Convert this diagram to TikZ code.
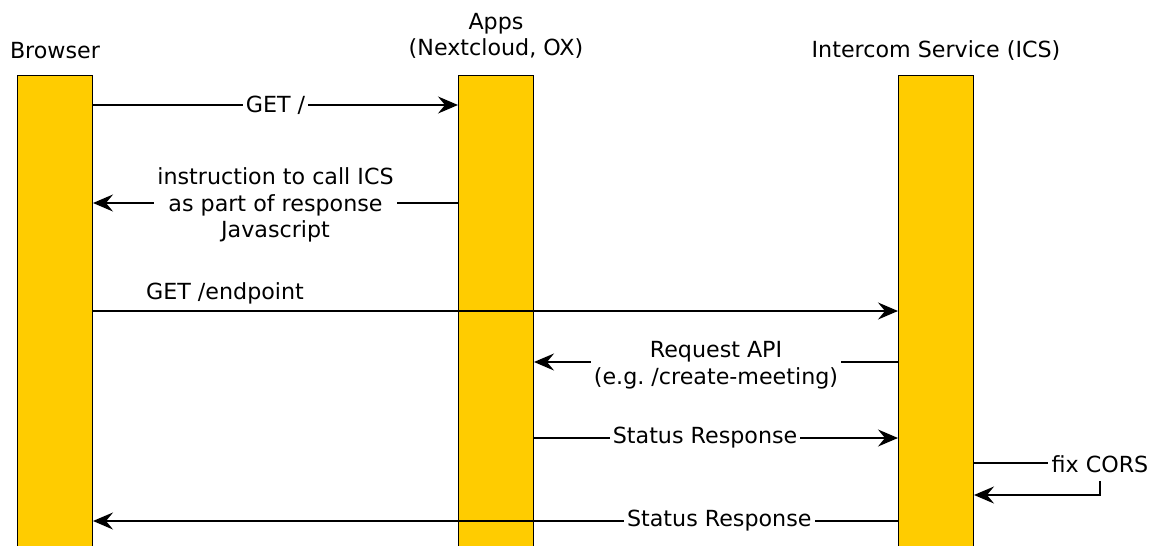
\documentclass[tikz,border=0pt]{standalone}
\usepackage{fontspec}
\setmainfont{DejaVu Sans}
\usetikzlibrary{arrows.meta,calc}
\definecolor{baryellow}{HTML}{FFCC00}
\tikzset{
  bar/.style={draw=black, line width=1pt, fill=baryellow, minimum width=75pt, minimum height=500pt, anchor=north, inner sep=0pt},
  hdr/.style={align=center, inner sep=0pt},
  lbl/.style={fill=white, align=center, inner sep=3pt},
  msg/.style={line width=1.4pt, -{Stealth[length=20pt,width=17pt,inset=7pt]}},
  plain/.style={line width=1.4pt},
}
\begin{document}
\frenchspacing
\begin{tikzpicture}[x=1pt,y=-1pt,font=\fontsize{22.2}{26.5}\selectfont]
\clip (0,0) rectangle (1149,546);
\fill[white] (0,0) rectangle (1149,546);
% headers
\node[hdr] (hB) at (55,51) {Browser};
\node[hdr, anchor=south] (hA) at (496,59) {Apps\\(Nextcloud, OX)};
\node[hdr] (hI) at (936,51) {Intercom Service (ICS)};
% lifeline bars
\node[bar] (B) at (55,75) {};
\node[bar] (A) at (496,75) {};
\node[bar] (I) at (936,75) {};
% row coordinates
\coordinate (r1) at (0,105);
\coordinate (r2) at (0,203);
\coordinate (r3) at (0,311);
\coordinate (r4) at (0,362);
\coordinate (r5) at (0,438);
\coordinate (r7) at (0,495);
\coordinate (r8) at (0,521);
% messages
\draw[msg] (B.east |- r1) -- node[lbl, pos=0.5] (m1) {GET /} (A.west |- r1);
\draw[msg] (A.west |- r2) -- node[lbl, pos=0.5, yshift=-2pt] (m2) {instruction to call ICS\\as part of response\\Javascript} (B.east |- r2);
\draw[msg] (B.east |- r3) -- (I.west |- r3);
\node (m3) at (225,293) {GET /endpoint};
\draw[msg] (I.west |- r4) -- node[lbl, pos=0.5, yshift=-3pt] (m4) {Request API\\(e.g. /create-meeting)} (A.east |- r4);
\draw[msg] (A.east |- r5) -- node[lbl, pos=0.47] (m5) {Status Response} (I.west |- r5);
\node[inner sep=3pt] (fix) at (1100,464) {fix CORS};
\draw[plain] (I.east |- 0,463) -- (fix.west |- 0,463);
\draw[msg] ($(fix.south)+(0,5)$) |- (I.east |- r7);
\draw[msg] (I.west |- r8) -- node[lbl, pos=0.222] (m8) {Status Response} (B.east |- r8);
\end{tikzpicture}
\end{document}
